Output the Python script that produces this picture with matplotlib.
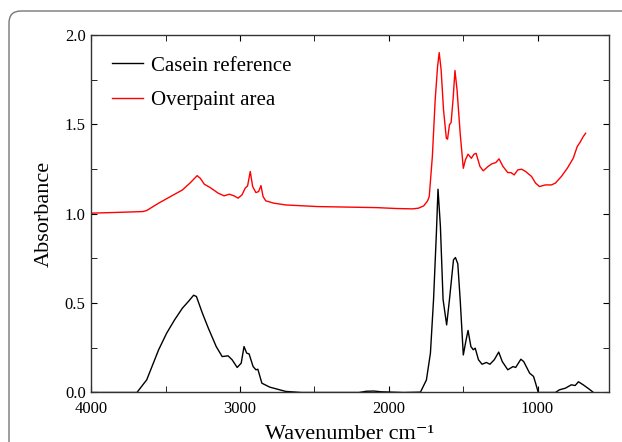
import numpy as np
import matplotlib
matplotlib.use("Agg")
import matplotlib.pyplot as plt
from matplotlib.patches import FancyBboxPatch
from matplotlib.ticker import MultipleLocator, FormatStrFormatter

# Casein reference (black): wavenumber (cm-1), absorbance
casein_wn = [4000, 3693, 3627, 3547, 3493, 3440, 3387, 3347, 3312, 3293, 3253, 3213,
             3160, 3120, 3080, 3053, 3019, 2992, 2973, 2955, 2939, 2912, 2893, 2880,
             2853, 2800, 2693, 2587, 2200, 2150, 2100, 2050, 1900, 1787, 1747, 1720,
             1699, 1680, 1669, 1653, 1635, 1611, 1592, 1565, 1552, 1536, 1520, 1499,
             1480, 1467, 1448, 1432, 1419, 1397, 1373, 1344, 1320, 1291, 1261, 1237,
             1200, 1165, 1147, 1112, 1093, 1053, 1027, 1013, 995, 880, 853, 813, 773,
             747, 725, 693, 653, 627]
casein_abs = [0.0, 0.0, 0.071, 0.239, 0.332, 0.406, 0.472, 0.509, 0.544, 0.537, 0.444,
              0.36, 0.257, 0.201, 0.205, 0.183, 0.14, 0.164, 0.257, 0.22, 0.216, 0.145,
              0.127, 0.13, 0.052, 0.03, 0.006, 0.0, 0.0, 0.007, 0.008, 0.004, 0.0, 0.002,
              0.07, 0.22, 0.52, 0.89, 1.137, 0.93, 0.52, 0.378, 0.52, 0.742, 0.755, 0.72,
              0.52, 0.21, 0.295, 0.347, 0.257, 0.239, 0.248, 0.183, 0.158, 0.168, 0.158,
              0.183, 0.226, 0.173, 0.127, 0.145, 0.14, 0.186, 0.173, 0.108, 0.09, 0.052,
              0.0, 0.0, 0.015, 0.024, 0.043, 0.039, 0.06, 0.043, 0.019, 0.002]

# Overpaint area (red)
over_wn = [4000, 3800, 3653, 3627, 3547, 3467, 3387, 3333, 3288, 3267, 3240, 3200,
           3147, 3107, 3072, 3040, 3013, 2987, 2965, 2949, 2931, 2915, 2893, 2875,
           2859, 2845, 2827, 2773, 2693, 2480, 2213, 2080, 1947, 1840, 1800, 1765,
           1739, 1728, 1707, 1688, 1672, 1661, 1648, 1632, 1613, 1605, 1592, 1581,
           1568, 1555, 1541, 1520, 1499, 1485, 1467, 1445, 1427, 1413, 1387, 1365,
           1333, 1307, 1280, 1259, 1232, 1200, 1179, 1157, 1133, 1107, 1080, 1040,
           1013, 987, 947, 907, 880, 840, 800, 760, 733, 715, 693, 677]
over_abs = [1.003, 1.008, 1.012, 1.018, 1.059, 1.096, 1.133, 1.174, 1.213, 1.198, 1.165,
            1.146, 1.115, 1.1, 1.109, 1.1, 1.087, 1.105, 1.143, 1.156, 1.236, 1.152,
            1.118, 1.124, 1.157, 1.096, 1.072, 1.059, 1.049, 1.04, 1.036, 1.034, 1.029,
            1.027, 1.031, 1.044, 1.072, 1.096, 1.32, 1.637, 1.823, 1.901, 1.804, 1.581,
            1.422, 1.417, 1.497, 1.51, 1.637, 1.801, 1.692, 1.45, 1.254, 1.301, 1.333,
            1.31, 1.333, 1.338, 1.264, 1.24, 1.264, 1.279, 1.286, 1.307, 1.264, 1.23,
            1.23, 1.217, 1.245, 1.249, 1.236, 1.208, 1.171, 1.152, 1.161, 1.161, 1.171,
            1.208, 1.254, 1.31, 1.376, 1.398, 1.431, 1.45]

plt.rcParams['font.family'] = ['Liberation Serif', 'DejaVu Serif']

fig = plt.figure(figsize=(6.22, 4.42), dpi=100)
ax = fig.add_axes([0.1467, 0.112, 0.979 - 0.1467, 0.921 - 0.112])

ax.plot(casein_wn, casein_abs, color='black', lw=1.0, label='Casein reference')
ax.plot(over_wn, over_abs, color='#ff0000', lw=1.0, label='Overpaint area')

ax.set_xlim(4000, 520)
ax.set_ylim(0, 2.0)
ax.xaxis.set_major_locator(MultipleLocator(1000))
ax.xaxis.set_minor_locator(MultipleLocator(500))
ax.yaxis.set_major_locator(MultipleLocator(0.5))
ax.yaxis.set_minor_locator(MultipleLocator(0.25))
ax.yaxis.set_major_formatter(FormatStrFormatter('%.1f'))
ax.tick_params(which='both', direction='in', top=True, right=True, labelsize=12)
ax.tick_params(axis='x', pad=6)
ax.tick_params(axis='y', pad=4)
ax.tick_params(which='both', length=4)
for s in ax.spines.values():
    s.set_linewidth(1.0)
    s.set_color('#333333')

ax.set_xlabel('Wavenumber cm\u207b\u00b9', fontsize=16, labelpad=6)
ax.set_ylabel('Absorbance', fontsize=16, labelpad=8)

ax.legend(loc='upper left', frameon=False, fontsize=15, handlelength=1.5,
          handletextpad=0.4, labelspacing=0.7, borderaxespad=0.5,
          bbox_to_anchor=(0.003, 0.993))

# rounded outer frame, cut off by the right and bottom edges
frame = FancyBboxPatch((0.09, -1.0), 7.0, 4.31 + 1.0,
                       boxstyle='round,pad=0,rounding_size=0.12',
                       transform=fig.dpi_scale_trans, fill=False,
                       edgecolor='#777777', lw=1.0, clip_on=False)
fig.add_artist(frame)

fig.savefig('out.png', dpi=100)
